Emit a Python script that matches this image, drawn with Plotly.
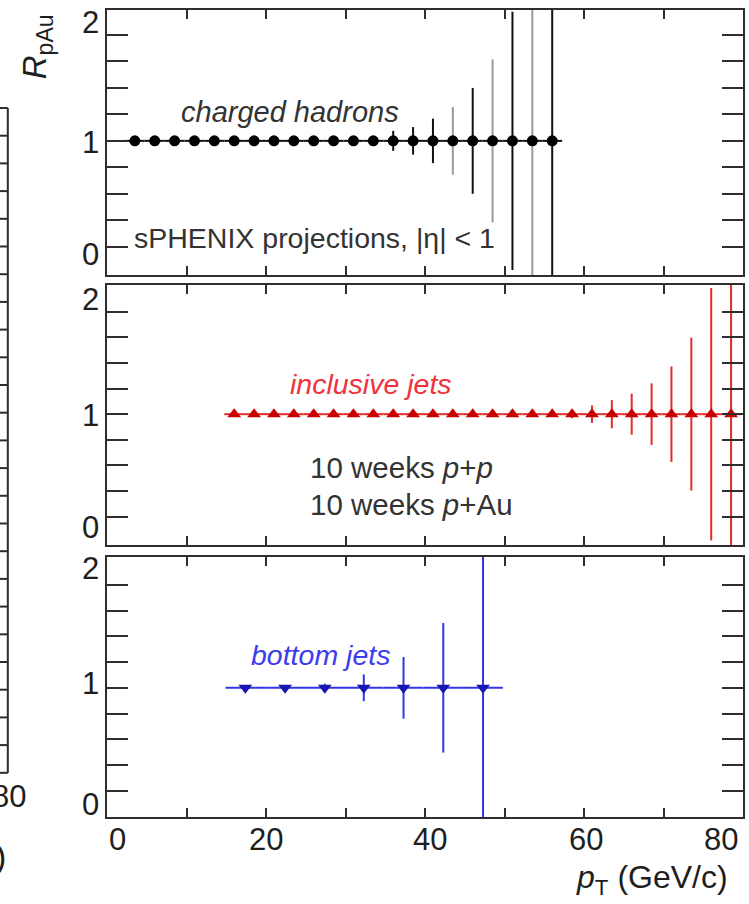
import plotly.graph_objects as go

# ---- R_pAu projections (p+p and p+Au, 10 weeks each) ----
# charged hadrons
hadron_pt = [3.5, 6.0, 8.5, 11.0, 13.5, 16.0, 18.5, 21.0, 23.5, 26.0, 28.5,
             31.0, 33.5, 36.0, 38.5, 41.0, 43.5, 46.0, 48.5, 51.0, 53.5, 56.0]
hadron_r = [1.0, 1.0, 1.0, 1.0, 1.0, 1.0, 1.0, 1.0, 1.0, 1.0, 1.0,
            1.0, 1.0, 1.0, 1.0, 1.0, 1.0, 1.0, 1.0, 1.0, 1.0, 1.0]
hadron_err = [0.005, 0.005, 0.006, 0.007, 0.008, 0.010, 0.012, 0.015, 0.018,
              0.022, 0.028, 0.035, 0.045, 0.095, 0.13, 0.21, 0.32, 0.50,
              0.77, 1.22, 1.60, 2.20]
hadron_halfbin = 1.25

# inclusive jets
jet_pt = [16.0, 18.5, 21.0, 23.5, 26.0, 28.5, 31.0, 33.5, 36.0, 38.5, 41.0,
          43.5, 46.0, 48.5, 51.0, 53.5, 56.0, 58.5, 61.0, 63.5, 66.0, 68.5,
          71.0, 73.5, 76.0, 78.5]
jet_r = [1.0, 1.0, 1.0, 1.0, 1.0, 1.0, 1.0, 1.0, 1.0, 1.0, 1.0, 1.0, 1.0,
         1.0, 1.0, 1.0, 1.0, 1.0, 1.0, 1.0, 1.0, 1.0, 1.0, 1.0, 1.0, 1.0]
jet_err = [0.003, 0.003, 0.003, 0.004, 0.004, 0.005, 0.005, 0.006, 0.007,
           0.008, 0.009, 0.010, 0.012, 0.014, 0.017, 0.021, 0.027, 0.04,
           0.085, 0.137, 0.20, 0.30, 0.465, 0.745, 1.23, 1.80]
jet_halfbin = 1.25

# bottom jets
bjet_pt = [17.4, 22.4, 27.4, 32.3, 37.3, 42.3, 47.3]
bjet_r = [1.0, 1.0, 1.0, 1.0, 1.0, 1.0, 1.0]
bjet_err = [0.01, 0.02, 0.04, 0.13, 0.30, 0.63, 1.60]
bjet_halfbin = 2.5

# axis ticks and labels
x_ticks = [0, 10, 20, 30, 40, 50, 60, 70, 80]
x_labels = [0, 20, 40, 60, 80]
y_ticks = [0, 0.25, 0.5, 0.75, 1.0, 1.25, 1.5, 1.75, 2.0]
y_labels = [0, 1, 2]

FONT = "Liberation Sans"
FRAME = "#2e2e2e"
TXT = "#1e1e1e"

# hadron bins whose error bars are rendered in a lighter grey
light_bins = {16, 18, 20}
err_dark = [0 if i in light_bins else e for i, e in enumerate(hadron_err)]
err_light = [e if i in light_bins else 0 for i, e in enumerate(hadron_err)]

fig = go.Figure()

fig.add_trace(go.Scatter(
    x=hadron_pt, y=hadron_r, mode="markers", xaxis="x", yaxis="y",
    marker=dict(symbol="circle", size=1, opacity=0),
    error_y=dict(type="data", array=err_light, color="#9a9a9a", thickness=2, width=0),
    showlegend=False, hoverinfo="skip"))

fig.add_trace(go.Scatter(
    x=hadron_pt, y=hadron_r, mode="markers", xaxis="x", yaxis="y",
    marker=dict(symbol="circle", size=11, color="#000000"),
    error_y=dict(type="data", array=err_dark, color="#111111", thickness=2, width=0),
    error_x=dict(type="constant", value=hadron_halfbin, color="#111111", thickness=2, width=0),
    showlegend=False, hoverinfo="skip"))

fig.add_trace(go.Scatter(
    x=jet_pt, y=jet_r, mode="markers", xaxis="x2", yaxis="y2",
    marker=dict(symbol="triangle-up", size=12, color="#c80000"),
    error_y=dict(type="data", array=jet_err, color="#e42a2a", thickness=2, width=0),
    error_x=dict(type="constant", value=jet_halfbin, color="#e42a2a", thickness=2, width=0),
    showlegend=False, hoverinfo="skip"))

fig.add_trace(go.Scatter(
    x=bjet_pt, y=bjet_r, mode="markers", xaxis="x3", yaxis="y3",
    marker=dict(symbol="triangle-down", size=12, color="#1616b0"),
    error_y=dict(type="data", array=bjet_err, color="#3434e4", thickness=2, width=0),
    error_x=dict(type="constant", value=bjet_halfbin, color="#3434e4", thickness=2, width=0),
    showlegend=False, hoverinfo="skip"))

W, H = 749, 904
ML, MR, MT, MB = 107, 4, 10, 87
PW, PH = W - ML - MR, H - MT - MB


def px_x(p):
    return (p - ML) / PW


def px_y(p):
    return (H - MB - p) / PH


def xax(anchor):
    return dict(range=[0, 80], domain=[0, 1], anchor=anchor, showline=True,
                linecolor=FRAME, linewidth=2, mirror="ticks", ticks="inside",
                ticklen=9, tickwidth=2, tickcolor=FRAME, tickvals=x_ticks,
                showticklabels=False, showgrid=False, zeroline=False)


def yax(anchor, rng, dom):
    return dict(range=rng, domain=dom, anchor=anchor, showline=True,
                linecolor=FRAME, linewidth=2, mirror="ticks", ticks="inside",
                ticklen=21, tickwidth=2, tickcolor=FRAME, tickvals=y_ticks,
                showticklabels=False, showgrid=False, zeroline=False)


panels = [
    ("y", [-0.267, 2.236], [px_y(275), px_y(10)]),
    ("y2", [-0.275, 2.259], [px_y(545), px_y(285)]),
    ("y3", [-0.256, 2.272], [px_y(817), px_y(557)]),
]

fig.update_layout(
    width=W, height=H,
    margin=dict(l=ML, r=MR, t=MT, b=MB, pad=0),
    paper_bgcolor="white", plot_bgcolor="white",
    font=dict(family=FONT, color=TXT),
    xaxis=xax("y"), xaxis2=xax("y2"), xaxis3=xax("y3"),
    yaxis=yax("x", panels[0][1], panels[0][2]),
    yaxis2=yax("x2", panels[1][1], panels[1][2]),
    yaxis3=yax("x3", panels[2][1], panels[2][2]),
)

ann = []

# y tick labels (per panel shifts follow the drawn label placement)
y_shifts = {"y": [-8, -2, 12], "y2": [-11, -1, 12], "y3": [-14, 4, 16]}
for yref, _, _ in panels:
    for v, s in zip(y_labels, y_shifts[yref]):
        ann.append(dict(text=str(v), xref="paper", x=px_x(101), xanchor="right",
                        yref=yref, y=v, yanchor="middle", yshift=s, showarrow=False,
                        font=dict(size=31, color=TXT)))

# x tick labels
x_shifts = [10, 0, 5, 2, -22]
for v, s in zip(x_labels, x_shifts):
    ann.append(dict(text=str(v), xref="x3", x=v, xanchor="center", xshift=s,
                    yref="paper", y=px_y(839), yanchor="middle", showarrow=False,
                    font=dict(size=31, color=TXT)))

# axis titles
ann.append(dict(text="<i>R</i><sub>pAu</sub>", textangle=-90, xref="paper", x=px_x(37),
                xanchor="center", yref="paper", y=px_y(47), yanchor="middle",
                showarrow=False, font=dict(size=33, color=TXT)))
ann.append(dict(text="<i>p</i><sub>T</sub> (GeV/c)", xref="paper", x=px_x(732),
                xanchor="right", yref="paper", y=px_y(880), yanchor="middle",
                showarrow=False, font=dict(size=32, color=TXT)))

# panel captions
ann += [
    dict(text="<i>charged hadrons</i>", xref="x", x=9.0, xanchor="left",
         yref="y", y=1.27, yanchor="middle", showarrow=False,
         font=dict(size=29, color="#333333")),
    dict(text="sPHENIX projections, |η| < 1", xref="x", x=3.1, xanchor="left",
         yref="y", y=0.08, yanchor="middle", showarrow=False,
         font=dict(size=28.5, color="#333333")),
    dict(text="<i>inclusive jets</i>", xref="x2", x=22.8, xanchor="left",
         yref="y2", y=1.29, yanchor="middle", showarrow=False,
         font=dict(size=28.5, color="#f0323c")),
    dict(text="10 weeks <i>p</i>+<i>p</i>", xref="x2", x=25.3, xanchor="left",
         yref="y2", y=0.485, yanchor="middle", showarrow=False,
         font=dict(size=29.5, color="#333333")),
    dict(text="10 weeks <i>p</i>+Au", xref="x2", x=25.3, xanchor="left",
         yref="y2", y=0.117, yanchor="middle", showarrow=False,
         font=dict(size=29.5, color="#333333")),
    dict(text="<i>bottom jets</i>", xref="x3", x=17.8, xanchor="left",
         yref="y3", y=1.32, yanchor="middle", showarrow=False,
         font=dict(size=28.5, color="#3c3cf0")),
]

# edge of the neighbouring figure on the left
shapes = [dict(type="line", xref="paper", yref="paper", x0=px_x(7.5), x1=px_x(7.5),
               y0=px_y(108), y1=px_y(773), line=dict(color=FRAME, width=2))]
tick_y = 108.0
while tick_y < 774:
    shapes.append(dict(type="line", xref="paper", yref="paper", x0=px_x(-2), x1=px_x(7.5),
                       y0=px_y(tick_y), y1=px_y(tick_y),
                       line=dict(color=FRAME, width=2)))
    tick_y += 27.7
ann.append(dict(text="80", xref="paper", x=px_x(8.5), xanchor="center",
                yref="paper", y=px_y(796), yanchor="middle", showarrow=False,
                font=dict(size=31, color=TXT)))
ann.append(dict(text=")", xref="paper", x=px_x(8), xanchor="right",
                yref="paper", y=px_y(856), yanchor="middle", showarrow=False,
                font=dict(size=34, color=TXT)))

fig.update_layout(annotations=ann, shapes=shapes)

fig.write_html("out.html")
